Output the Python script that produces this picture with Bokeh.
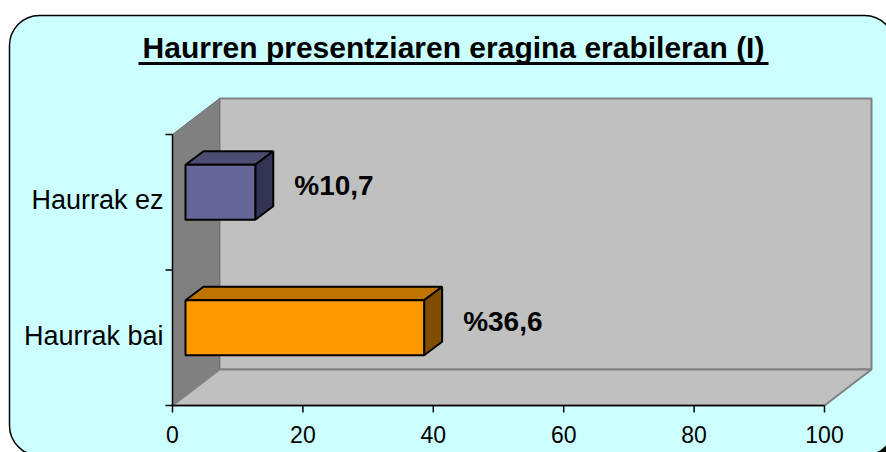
from bokeh.plotting import figure
from bokeh.models import Range1d
from bokeh.core.properties import value
from bokeh.embed import file_html
from bokeh.resources import INLINE

# ---- data ----
title = "Haurren presentziaren eragina erabileran (I)"
categories = ["Haurrak bai", "Haurrak ez"]
values = [36.6, 10.7]
value_labels = ["%36,6", "%10,7"]
x_ticks = [0, 20, 40, 60, 80, 100]

# ---- styles ----
front_colors = ["#FF9900", "#666699"]
top_colors = ["#BF7300", "#4D4D73"]
side_colors = ["#804D00", "#333355"]
FONT = "Liberation Sans"

W, H = 886, 452
# scale: px per data unit
SX = 6.52     # x: value units
SY = 135.5    # y: category units
ORIGIN_X = 172   # px of value 0
ORIGIN_Y = 405   # px (from top) of category floor

x0 = -ORIGIN_X / SX
y0 = -(H - ORIGIN_Y) / SY
p = figure(width=W, height=H, x_range=Range1d(x0, x0 + W / SX),
           y_range=Range1d(y0, y0 + H / SY), output_backend="svg",
           toolbar_location=None, min_border=0, x_axis_location=None,
           y_axis_location=None, background_fill_color="white",
           border_fill_color="white", outline_line_color=None)
p.grid.visible = False


def sx(px):  # screen px -> x data
    return (px - ORIGIN_X) / SX


def sy(py):  # screen py -> y data
    return (ORIGIN_Y - py) / SY


def ddx(px):
    return px / SX


def ddy(px):
    return px / SY


n = len(categories)
xmax = x_ticks[-1]

# rounded chart area with shadow
p.quad(left=sx(12), right=sx(897), top=sy(18), bottom=sy(458),
       fill_color="black", line_color="black", line_width=1,
       border_radius=30)
p.quad(left=sx(9), right=sx(894), top=sy(15), bottom=sy(455),
       fill_color="#CCFFFF", line_color="black", line_width=1.5,
       border_radius=30)

# 3D walls
DX, DY = ddx(47), ddy(36)
p.quad(left=DX, right=xmax + DX, bottom=DY, top=n + DY,
       fill_color="#C0C0C0", line_color="#808080", line_width=2)
p.patch([0, DX, DX, 0], [0, DY, n + DY, n], fill_color="#808080",
        line_color="#707070", line_width=1)
p.patch([0, DX, xmax + DX, xmax], [0, DY, DY, 0], fill_color="#C0C0C0",
        line_color="#808080", line_width=2)

# axes
p.segment(x0=[0], y0=[0], x1=[0], y1=[n], line_color="black", line_width=1.5)
bounds = list(range(n + 1))
p.segment(x0=[-ddx(7)] * len(bounds), y0=bounds, x1=[0] * len(bounds),
          y1=bounds, line_color="black", line_width=1.5)
p.segment(x0=[0], y0=[0], x1=[xmax], y1=[0], line_color="black", line_width=1.5)
p.segment(x0=x_ticks, y0=[0] * len(x_ticks), x1=x_ticks,
          y1=[-ddy(7)] * len(x_ticks), line_color="black", line_width=1.5)
p.text(x=x_ticks, y=[sy(434)] * len(x_ticks), text=[str(t) for t in x_ticks],
       text_font=value(FONT), text_font_size="23px", text_align="center",
       text_baseline="middle", text_color="black")
cat_y = [i + 0.5 for i in range(n)]
p.text(x=[sx(163)] * n, y=[c + ddy(2) for c in cat_y], text=categories,
       text_font=value(FONT), text_font_size="27px", text_align="right",
       text_baseline="middle", text_color="black")

# bars
BOX, BOY = ddx(13), ddy(10)
BDX, BDY = ddx(18), ddy(13.5)
HH = ddy(27.5)
tops_x, tops_y, sides_x, sides_y = [], [], [], []
lefts, rights, bottoms, topsv = [], [], [], []
for i, v in enumerate(values):
    c = cat_y[i] + BOY
    b, t = c - HH, c + HH
    r = v + BOX
    tops_x.append([BOX, BOX + BDX, r + BDX, r])
    tops_y.append([t, t + BDY, t + BDY, t])
    sides_x.append([r, r + BDX, r + BDX, r])
    sides_y.append([b, b + BDY, t + BDY, t])
    lefts.append(BOX); rights.append(r); bottoms.append(b); topsv.append(t)

p.patches(tops_x, tops_y, fill_color=top_colors, line_color="black", line_width=2)
p.patches(sides_x, sides_y, fill_color=side_colors, line_color="black", line_width=2)
p.quad(left=lefts, right=rights, bottom=bottoms, top=topsv,
       fill_color=front_colors, line_color="black", line_width=2)

p.text(x=[v + BOX + BDX + ddx(21) for v in values],
       y=[c + BOY + BDY / 2 for c in cat_y], text=value_labels,
       text_font=value(FONT), text_font_size="28px", text_font_style="bold",
       text_align="left", text_baseline="middle", text_color="black")

# title
p.text(x=[sx(453)], y=[sy(47)], text=[title], text_font=value(FONT),
       text_font_size="30px", text_font_style="bold", text_align="center",
       text_baseline="middle", text_color="black")
p.segment(x0=[sx(138)], y0=[sy(63)], x1=[sx(768)], y1=[sy(63)],
          line_color="black", line_width=3)

open("out.html", "w").write(file_html(p, INLINE))
